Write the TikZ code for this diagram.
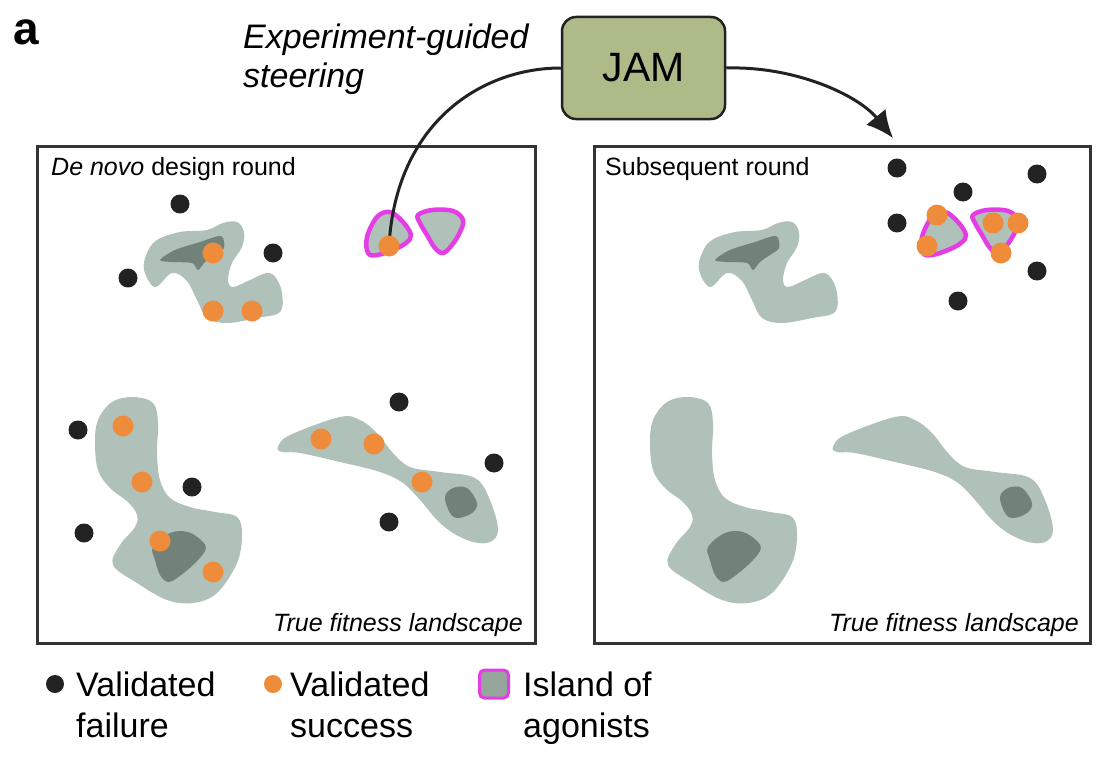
\documentclass[tikz,border=0pt]{standalone}
\usepackage{fontspec}
\setmainfont{Liberation Sans}
\usetikzlibrary{positioning,arrows.meta}

\definecolor{islandc}{HTML}{B0C1B9}
\definecolor{peakc}{HTML}{738279}
\definecolor{magc}{HTML}{E43DE6}
\definecolor{hitc}{HTML}{EE8C3B}
\definecolor{failc}{HTML}{222222}
\definecolor{jamc}{HTML}{ADBB89}
\definecolor{framec}{HTML}{333333}

\tikzset{
  fail/.style={circle, fill=failc, inner sep=0pt, minimum size=19pt},
  hit/.style={circle, fill=hitc, inner sep=0pt, minimum size=21pt},
  roundbox/.style={draw=framec, line width=3pt},
  isle/.style={fill=islandc},
  peak/.style={fill=peakc},
  agonist/.style={fill=islandc, draw=magc, line width=4.5pt, line join=round},
  legtext/.style={anchor=north west, inner sep=0pt, align=left,
    font=\fontsize{34}{41}\selectfont},
}

% the landscape, same in both rounds
\newcommand{\fitnessmap}{%
  % top blob
  \fill[isle] plot[smooth cycle, tension=0.6] coordinates {
    (147,253) (157,240) (180,232) (207,230) (223,223) (237,222) (244,232)
    (242,247) (232,263) (228,280) (233,287) (250,280) (267,273) (276,278)
    (282,293) (280,312) (257,318) (227,323) (207,318) (197,300) (187,281)
    (172,273) (155,287) (144,270)};
  \fill[peak] plot[smooth cycle, tension=0.5] coordinates {
    (160,260) (175,250) (200,242) (221,236) (224,248) (215,255) (205,262)
    (198,270) (192,263) (172,262)};
  % lower left blob
  \fill[isle] plot[smooth cycle, tension=0.6] coordinates {
    (98,420) (112,402) (133,397) (153,403) (158,423) (157,453) (160,480)
    (170,498) (190,507) (215,512) (237,517) (242,535) (237,563) (217,593)
    (193,603) (167,600) (137,583) (113,565) (120,545) (135,527) (137,515)
    (128,502) (110,488) (98,470) (95,443)};
  \fill[peak] plot[smooth cycle, tension=0.6] coordinates {
    (153,547) (170,533) (188,532) (203,542) (205,551) (193,565) (177,578)
    (168,582) (160,575) (155,560)};
  % lower right blob
  \fill[isle] plot[smooth cycle, tension=0.6] coordinates {
    (278,447) (290,435) (340,417) (360,420) (377,433) (393,453) (410,467)
    (440,472) (475,478) (490,500) (498,530) (490,542) (473,542) (453,533)
    (437,520) (420,500) (403,483) (380,472) (340,462) (300,453) (282,452)};
  \fill[peak] plot[smooth cycle, tension=0.6] coordinates {
    (445,497) (453,488) (467,488) (477,503) (472,513) (458,518) (450,513)};
  % islands of agonists
  \filldraw[agonist] plot[smooth cycle, tension=0.6] coordinates {
    (368,253) (367,237) (377,217) (390,212) (403,222) (411,235) (406,243)
    (393,250) (377,255)};
  \filldraw[agonist] plot[smooth cycle, tension=0.6] coordinates {
    (418,215) (432,210) (453,211) (463,220) (460,232) (452,245) (443,253)
    (435,248) (427,235) (420,223)};
}

\begin{document}
\begin{tikzpicture}[x=1pt, y=-1pt]
  \useasboundingbox (0,0) rectangle (1116,760);

  %frames
  \draw[roundbox] (37,146) rectangle (535,643);
  \draw[roundbox] (594,146) rectangle (1090,643);
  \fitnessmap
  \begin{scope}[xshift=555pt]
    \fitnessmap
  \end{scope}

  %titles
  \node[anchor=base west, inner sep=0pt, font=\fontsize{46}{50}\selectfont\bfseries] (panel) at (13,45) {a};
  \node[anchor=base west, inner sep=0pt, align=left, font=\fontsize{34}{39}\selectfont\itshape] (steer) at (243,87) {Experiment-guided\\steering};
  \begin{scope}[every node/.style={inner sep=0pt, font=\fontsize{25}{30}\selectfont}]
    \node[anchor=base west] (r1) at (51,175) {\textit{De novo} design round};
    \node[anchor=base west] (r2) at (605,175) {Subsequent round};
    \node[anchor=base east] (t1) at (523,631) {\textit{True fitness landscape}};
    \node[anchor=base east] (t2) at (1079,631) {\textit{True fitness landscape}};
  \end{scope}

  %JAM
  \node[draw=failc, fill=jamc, line width=2.5pt, rounded corners=14pt,
    minimum width=163pt, minimum height=102pt,
    font=\fontsize{41}{49}\selectfont] (jam) at (643.5,68) {JAM};

  %first round dots
  \foreach \x/\y in {180/204, 273/253, 128/278, 399/402, 78/430, 192/487,
    84/533, 494/463, 389/522}
    \node[fail] at (\x,\y) {};
  \foreach \x/\y in {213/253, 213/311, 252/311, 123/426, 142/482, 160/541,
    213/572, 321/439, 374/444, 422/482}
    \node[hit] at (\x,\y) {};

  %edges
  \coordinate (tip) at (893,138);
  \path[draw, line width=3pt, color=failc] (jam.west) .. controls (482,68) and (396,122) .. (389,246);
  \node[hit] (seed) at (389,246) {};
  \path[draw, line width=3pt, color=failc, -{Latex[length=27pt, width=25pt]}] (jam.east) .. controls (795,66) and (858,95) .. (tip);

  %second round dots
  \foreach \x/\y in {897/168, 963/192, 1037/174, 897/223, 1037/271, 958/301}
    \node[fail] at (\x,\y) {};
  \foreach \x/\y in {937/215, 927/246, 993/223, 1018/223, 1001/253}
    \node[hit] at (\x,\y) {};

  %legend
  \node[fail, minimum size=18pt] (kfail) at (55,684) {};
  \node[hit, minimum size=18pt] (khit) at (273,684) {};
  \node[draw=magc, fill=peakc!45!islandc, line width=3pt, rounded corners=5pt,
    minimum width=29pt, minimum height=28pt, inner sep=0pt] (kisle) at (494,684) {};
  \node[legtext] (lfail) at (76,672) {Validated\\failure};
  \node[legtext] (lhit) at (290,672) {Validated\\success};
  \node[legtext] (lisle) at (523,672) {Island of\\agonists};
\end{tikzpicture}
\end{document}
